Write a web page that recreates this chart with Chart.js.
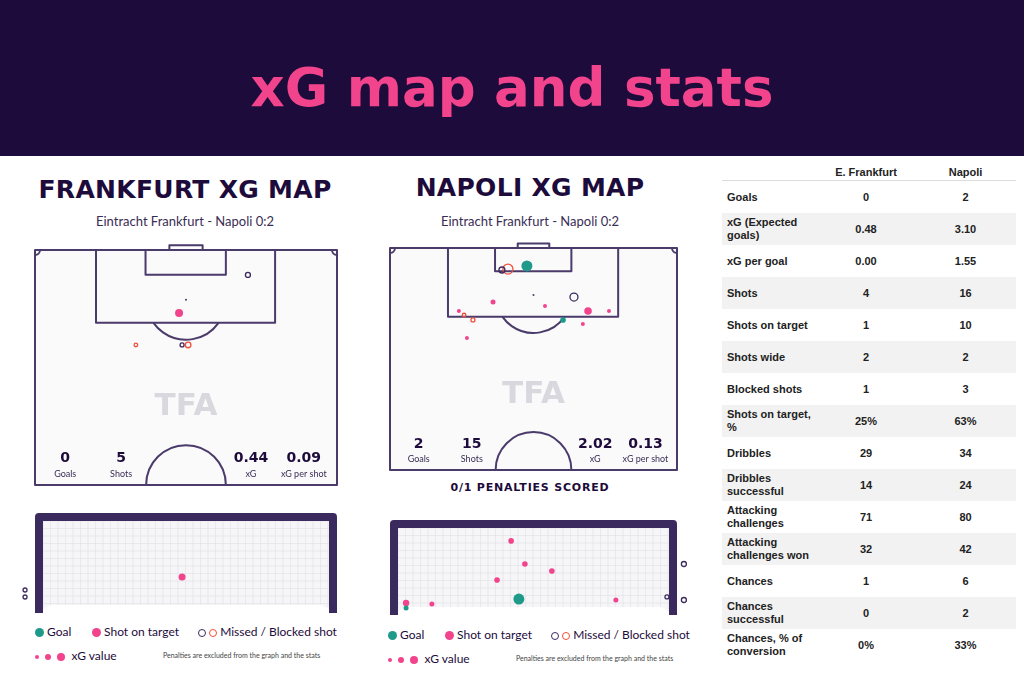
<!DOCTYPE html>
<html><head><meta charset="utf-8">
<script src="https://cdn.jsdelivr.net/npm/chart.js@4.4.0/dist/chart.umd.min.js"></script>
<style>
body{margin:0;width:1024px;height:683px;position:relative;background:#fff;font-family:Lato,"Noto Sans",sans-serif;color:#1d0b3b;overflow:hidden}
#hdr{position:absolute;left:0;top:0;width:1024px;height:156px;background:#1d0b3b;color:#f2448c;font:bold 53px "DejaVu Sans",sans-serif;text-align:center;line-height:176px}
.t{position:absolute;text-align:center}
.h2{font:bold 25px "DejaVu Sans",sans-serif;letter-spacing:0.3px}
.sub{font:13px Lato,sans-serif;color:#3a2d55}
canvas{position:absolute}
.leg{position:absolute;font:12px Lato,sans-serif;color:#1d0b3b;white-space:nowrap}
.dot{display:inline-block;border-radius:50%;vertical-align:middle}
#tbl{position:absolute;left:722px;top:164px;width:294px;border-collapse:collapse;table-layout:fixed;font:bold 11px Arial,"Liberation Sans",sans-serif;color:#222}
#tbl td{height:32px;padding:0 5px;line-height:13px}
#tbl tr.g td{background:#f2f2f2}
#tbl td.v{text-align:center}
#tbl tr.hd td{height:16px;border-bottom:1px solid #ddd;font-weight:bold}
.pen{font:bold 11px "DejaVu Sans",sans-serif;letter-spacing:0.8px}
</style></head><body>
<div id="hdr">xG map and stats</div>
<div class="t h2" style="left:20px;width:330px;top:175px">FRANKFURT XG MAP</div>
<div class="t sub" style="left:20px;width:330px;top:213px">Eintracht Frankfurt - Napoli 0:2</div>
<div class="t h2" style="left:355px;width:350px;top:173px">NAPOLI XG MAP</div>
<div class="t sub" style="left:355px;width:350px;top:213px">Eintracht Frankfurt - Napoli 0:2</div>
<div class="t pen" style="left:385px;width:290px;top:481px">0/1 PENALTIES SCORED</div>
<canvas id="p1"></canvas><canvas id="p2"></canvas><canvas id="g1"></canvas><canvas id="g2"></canvas>
<div id="legs"></div>
<table id="tbl"><colgroup><col style="width:95px"><col style="width:98px"><col style="width:101px"></colgroup><tbody id="tb"></tbody></table>
<script>
// ---- data ----
const teams = ["E. Frankfurt", "Napoli"];
const statLabels = ["Goals","xG (Expected goals)","xG per goal","Shots","Shots on target","Shots wide","Blocked shots","Shots on target, %","Dribbles","Dribbles successful","Attacking challenges","Attacking challenges won","Chances","Chances successful","Chances, % of conversion"];
const frankfurtStats = ["0","0.48","0.00","4","1","2","1","25%","29","14","71","32","1","0","0%"];
const napoliStats = ["2","3.10","1.55","16","10","2","3","63%","34","24","80","42","6","2","33%"];
const summaryLabels = ["Goals","Shots","xG","xG per shot"];
const frankfurtSummary = ["0","5","0.44","0.09"];
const napoliSummary = ["2","15","2.02","0.13"];
// shots on pitch: x (0-100 across), y (0-100 from goal line), r, type
const frankfurtShots = [[47.7,26.8,4,"on"],[70.5,10.6,2.5,"miss"],[33.4,40.4,1.8,"block"],[48.7,40.4,2,"miss"],[50.7,40.4,2.8,"block"]];
const napoliShots = [[47.7,8.1,5.5,"goal"],[41.1,9.5,5,"block"],[39.0,9.9,3,"miss"],[64.1,22.1,4,"miss"],[35.9,24.3,2.5,"on"],[54.0,26.1,2,"on"],[69.0,28.4,3.8,"on"],[76.3,28.4,2,"on"],[24.0,28.4,2,"on"],[25.8,30.2,1.8,"block"],[28.9,32.4,2,"block"],[60.3,32.4,2.8,"goal"],[67.2,34.2,2,"on"],[26.8,40.5,2,"on"]];
// shots on goal frame: x (0-100 post to post), y (0-100 bar to ground)
const frankfurtGoalShots = [[48.7,64,3.5,"on"],[-3.3,77,2,"miss"],[-3.3,84,2,"miss"]];
const napoliGoalShots = [[42.2,22,2.8,"on"],[47.0,46.3,2.8,"on"],[56.4,53.7,2.8,"on"],[37.3,63.2,2.8,"on"],[14.6,88.4,2.5,"on"],[78.7,84.2,2.5,"on"],[44.9,83.2,5.5,"goal"],[5.6,87.4,3.2,"on"],[5.6,92.6,2.5,"goal"],[96.5,81,2,"miss"],[102.4,46.3,2.5,"miss"],[102.4,84.2,2.5,"miss"]];

const C = {goal:"#1f9a8a", on:"#f2448c", miss:"#3b2a5e", block:"#f0503a", line:"#4a3b6b"};

document.getElementById('tb').innerHTML='<tr class="hd"><td></td><td class="v">'+teams[0]+'</td><td class="v">'+teams[1]+'</td></tr>'+
 statLabels.map((l,i)=>'<tr class="'+(i%2?'g':'')+'"><td>'+l+'</td><td class="v">'+frankfurtStats[i]+'</td><td class="v">'+napoliStats[i]+'</td></tr>').join('');

function ds(shots){
  return [{data:shots.map(s=>({x:s[0],y:s[1]})),
    pointRadius:shots.map(s=>s[2]),
    pointHoverRadius:shots.map(s=>s[2]),
    pointBackgroundColor:shots.map(s=>(s[3]=="goal"||s[3]=="on")?C[s[3]]:"rgba(255,255,255,0)"),
    pointBorderColor:shots.map(s=>C[s[3]]),
    pointBorderWidth:shots.map(s=>(s[3]=="goal"||s[3]=="on")?0:1.3)}];
}
function mk(id,L,T,W,H,box,shots,draw){
  const cv=document.getElementById(id);
  cv.style.left=L+'px';cv.style.top=T+'px';cv.width=W;cv.height=H;cv.style.width=W+'px';cv.style.height=H+'px';
  const ch=new Chart(cv,{type:'scatter',data:{datasets:ds(shots)},
    options:{responsive:false,animation:false,maintainAspectRatio:false,layout:{padding:0},
      plugins:{legend:{display:false},tooltip:{enabled:false}},
      scales:{x:{type:'linear',display:false,min:0,max:100},y:{type:'linear',display:false,min:0,max:100,reverse:true}}},
    plugins:[{id:'bg',beforeDatasetsDraw(ch){draw(ch,ch.ctx,v=>ch.scales.x.getPixelForValue(v),v=>ch.scales.y.getPixelForValue(v));}}]});
  const ca=ch.chartArea;
  const aL=L+ca.left, aR=L+ca.right, aT=T+ca.top, aB=T+ca.bottom;
  ch.options.scales.x.min=(aL-box[0])/box[2]*100; ch.options.scales.x.max=(aR-box[0])/box[2]*100;
  ch.options.scales.y.min=(aT-box[1])/box[3]*100; ch.options.scales.y.max=(aB-box[1])/box[3]*100;
  ch.update();
}
function pitch(summary){
  return (ch,c,X,Y)=>{
    c.save();
    c.fillStyle="#fafafb";c.fillRect(X(0),Y(0),X(100)-X(0),Y(100)-Y(0));
    c.fillStyle="#d9d8de";c.font="bold 31px 'DejaVu Sans',sans-serif";c.textAlign="center";c.fillText("TFA",X(50),Y(70));
    c.strokeStyle=C.line;c.lineWidth=2;c.lineJoin="round";
    c.strokeRect(X(0),Y(0),X(100)-X(0),Y(100)-Y(0));
    c.strokeRect(X(20.2),Y(0),X(79.5)-X(20.2),Y(31)-Y(0));
    c.strokeRect(X(36.6),Y(0),X(63.2)-X(36.6),Y(10.5)-Y(0));
    c.strokeRect(X(44.5),Y(-2),X(55.5)-X(44.5),Y(0)-Y(-2));
    const R=(X(100)-X(0))*0.132;
    const cx=X(50), py=Y(21.2), by=Y(31);
    const a=Math.asin(Math.min(1,(by-py)/R));
    c.beginPath();c.arc(cx,py,R,a,Math.PI-a);c.stroke();
    c.beginPath();c.arc(cx,Y(100),R,Math.PI,2*Math.PI);c.stroke();
    c.beginPath();c.arc(X(0),Y(0),5,0,Math.PI/2);c.stroke();
    c.beginPath();c.arc(X(100),Y(0),5,Math.PI/2,Math.PI);c.stroke();
    c.fillStyle=C.line;c.beginPath();c.arc(cx,py,1,0,7);c.fill();
    const xs=[10,28.5,71.5,89];
    summary.forEach((v,i)=>{c.fillStyle="#1d0b3b";c.font="bold 14px 'DejaVu Sans',sans-serif";c.fillText(v,X(xs[i]),Y(90));
      c.fillStyle="#3a2d55";c.font="9px Lato,sans-serif";c.fillText(summaryLabels[i],X(xs[i]),Y(96.5));});
    c.restore();
  };
}
function goalFrame(ch,c,X,Y){
  c.save();
  const l=X(0),r=X(100),t=Y(0),b=Y(100);
  c.fillStyle="#f6f6f8";c.fillRect(l,t,r-l,b-t);
  c.strokeStyle="#e0e0e6";c.lineWidth=0.6;
  for(let x=l+8;x<r;x+=7.5){c.beginPath();c.moveTo(x,t);c.lineTo(x,b-6);c.stroke();}
  for(let y=t+8;y<b-4;y+=7.5){c.beginPath();c.moveTo(l,y);c.lineTo(r,y);c.stroke();}
  c.fillStyle="#fff";c.beginPath();c.moveTo(l,b);c.lineTo(l+16,b-8);c.lineTo(r-16,b-8);c.lineTo(r,b);c.closePath();c.fill();
  c.strokeStyle="#3b2a5e";c.lineWidth=8;c.lineJoin="round";c.lineCap="butt";
  c.beginPath();c.moveTo(l+4,b);c.lineTo(l+4,t+4);c.lineTo(r-4,t+4);c.lineTo(r-4,b);c.stroke();
  c.restore();
}
mk('p1',25,235,322,260,[35,250,302,235],frankfurtShots,pitch(frankfurtSummary));
mk('p2',380,233,307,245,[390,248,287,222],napoliShots,pitch(napoliSummary));
mk('g1',10,503,340,115,[35,513,302,100],frankfurtGoalShots,goalFrame);
mk('g2',380,510,320,110,[390,520,287,95],napoliGoalShots,goalFrame);

function leg(x,y){
  return `<div class="leg" style="left:${x}px;top:${y}px"><span class="dot" style="width:9px;height:9px;background:${C.goal}"></span> Goal</div>
  <div class="leg" style="left:${x+57}px;top:${y}px"><span class="dot" style="width:9px;height:9px;background:${C.on}"></span> Shot on target</div>
  <div class="leg" style="left:${x+163}px;top:${y}px"><span class="dot" style="width:6px;height:6px;border:1.5px solid ${C.miss}"></span> <span class="dot" style="width:6px;height:6px;border:1.5px solid ${C.block}"></span> Missed / Blocked shot</div>
  <div class="leg" style="left:${x}px;top:${y+24}px"><span class="dot" style="width:4px;height:4px;background:${C.on}"></span>&nbsp; <span class="dot" style="width:6px;height:6px;background:${C.on}"></span>&nbsp; <span class="dot" style="width:8px;height:8px;background:${C.on}"></span>&nbsp; xG value</div>
  <div class="leg" style="left:${x+128}px;top:${y+27}px;font-size:7px;color:#444">Penalties are excluded from the graph and the stats</div>`;
}
document.getElementById('legs').innerHTML=leg(35,624)+leg(388,627);
</script>
</body></html>
